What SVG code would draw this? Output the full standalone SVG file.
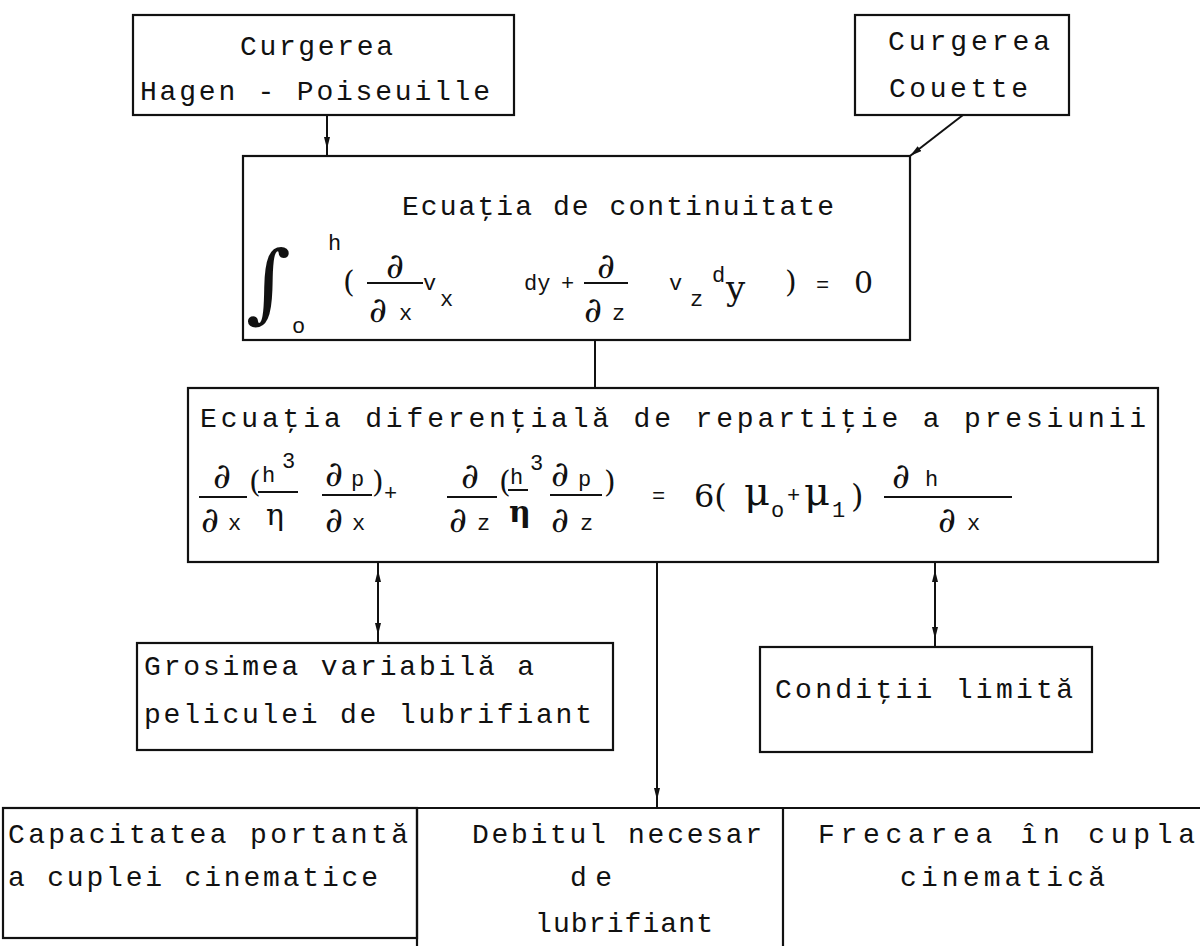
<svg xmlns="http://www.w3.org/2000/svg" width="1200" height="946" viewBox="0 0 1200 946">
<defs>
<marker id="arr" viewBox="0 0 12 6" refX="12" refY="3" markerWidth="12" markerHeight="6" markerUnits="userSpaceOnUse" orient="auto-start-reverse">
<path d="M0,0 L12,3 L0,6 z" fill="#111"/>
</marker>
<marker id="arrin" viewBox="0 0 20 6" refX="20" refY="3" markerWidth="20" markerHeight="6" markerUnits="userSpaceOnUse" orient="auto-start-reverse">
<path d="M0,0 L12,3 L0,6 z" fill="#111"/>
</marker>
<style>
.box{fill:none;stroke:#111;stroke-width:2.2}
.ln{fill:none;stroke:#111;stroke-width:2}
.bar{stroke:#111;stroke-width:2}
.tw{font-family:"Liberation Mono","DejaVu Sans Mono",monospace;font-size:28px;fill:#111}
.sm{font-family:"Liberation Mono","DejaVu Sans Mono",monospace;font-size:22px;fill:#111}
.mt{font-family:"DejaVu Serif","Liberation Serif",serif;fill:#111}
.d{font-family:"DejaVu Serif","Liberation Serif",serif;font-size:35px;fill:#111}
</style>
</defs>
<rect width="1200" height="946" fill="#fff"/>

<g id="connectors">
<line class="ln" x1="327" y1="115" x2="327" y2="157" marker-end="url(#arrin)"/>
<line class="ln" x1="963" y1="115" x2="910" y2="156" marker-end="url(#arr)"/>
<line class="ln" x1="595" y1="340" x2="595" y2="388"/>
<line class="ln" x1="378" y1="562" x2="378" y2="643" marker-start="url(#arrin)" marker-end="url(#arrin)"/>
<line class="ln" x1="657" y1="562" x2="657" y2="808" marker-end="url(#arrin)"/>
<line class="ln" x1="935" y1="562" x2="935" y2="647" marker-start="url(#arrin)" marker-end="url(#arrin)"/>
</g>

<g id="hagen-poiseuille">
<rect class="box" x="133" y="15" width="381" height="100"/>
<text class="tw" x="240" y="55" textLength="153" lengthAdjust="spacing">Curgerea</text>
<text class="tw" x="140" y="100" textLength="350" lengthAdjust="spacing">Hagen - Poiseuille</text>
</g>

<g id="couette">
<rect class="box" x="855" y="15" width="214" height="100"/>
<text class="tw" x="888" y="50" textLength="162" lengthAdjust="spacing">Curgerea</text>
<text class="tw" x="889" y="97" textLength="139" lengthAdjust="spacing">Couette</text>
</g>

<g id="continuitate">
<rect class="box" x="243" y="156" width="667" height="184"/>
<text class="tw" x="402" y="215" textLength="432" lengthAdjust="spacing">Ecuaţia de continuitate</text>
<text class="mt" x="246" y="312" font-size="86">∫</text>
<text class="sm" x="328" y="250" font-size="26">h</text>
<text class="sm" x="292" y="333" font-size="20">o</text>
<text class="mt" x="343" y="292" font-size="30">(</text>
<text class="d" x="395" y="278" text-anchor="middle">∂</text>
<line class="bar" x1="367" y1="283" x2="423" y2="283"/>
<text class="d" x="369" y="322">∂</text>
<text class="sm" x="399" y="320">x</text>
<text class="sm" x="423" y="290" font-size="24">v</text>
<text class="sm" x="440" y="306">x</text>
<text class="sm" x="524" y="290" font-size="24">dy</text>
<text class="sm" x="561" y="290" font-size="24">+</text>
<text class="d" x="606" y="278" text-anchor="middle">∂</text>
<line class="bar" x1="584" y1="283" x2="628" y2="283"/>
<text class="d" x="584" y="322">∂</text>
<text class="sm" x="612" y="320">z</text>
<text class="sm" x="669" y="290" font-size="24">v</text>
<text class="sm" x="690" y="306">z</text>
<text class="sm" x="712" y="282" font-size="20">d</text>
<text class="mt" x="726" y="300" font-size="34">y</text>
<text class="mt" x="785" y="292" font-size="30">)</text>
<text class="sm" x="816" y="292" font-size="26">=</text>
<text class="mt" x="854" y="293" font-size="30">0</text>
</g>

<g id="diferentiala">
<rect class="box" x="188" y="388" width="970" height="174"/>
<text class="tw" x="200" y="427" textLength="946" lengthAdjust="spacing">Ecuaţia diferenţială de repartiţie a presiunii</text>
<text class="d" x="222" y="488" text-anchor="middle">∂</text>
<line class="bar" x1="199" y1="497" x2="247" y2="497"/>
<text class="d" x="201" y="532">∂</text>
<text class="sm" x="228" y="530">x</text>
<text class="mt" x="249" y="492" font-size="30">(</text>
<text class="sm" x="262" y="482" font-size="26">h</text>
<text class="sm" x="282" y="468" font-size="20">3</text>
<line class="bar" x1="258" y1="492" x2="298" y2="492"/>
<text class="mt" x="266" y="525" font-size="30">η</text>
<text class="d" x="325" y="486">∂</text>
<text class="sm" x="351" y="486" font-size="24">p</text>
<line class="bar" x1="322" y1="495" x2="372" y2="495"/>
<text class="d" x="325" y="532">∂</text>
<text class="sm" x="352" y="530">x</text>
<text class="mt" x="372" y="492" font-size="30">)</text>
<text class="sm" x="384" y="500" font-size="24">+</text>
<text class="d" x="470" y="488" text-anchor="middle">∂</text>
<line class="bar" x1="447" y1="497" x2="497" y2="497"/>
<text class="d" x="449" y="532">∂</text>
<text class="sm" x="477" y="530">z</text>
<text class="mt" x="499" y="492" font-size="30">(</text>
<text class="sm" x="510" y="484" font-size="26">h</text>
<line class="bar" x1="508" y1="490" x2="528" y2="490"/>
<text class="sm" x="530" y="470" font-size="20">3</text>
<text class="mt" x="509" y="522" font-size="30" font-weight="bold">η</text>
<text class="d" x="551" y="486">∂</text>
<text class="sm" x="578" y="486" font-size="24">p</text>
<line class="bar" x1="550" y1="495" x2="602" y2="495"/>
<text class="d" x="551" y="532">∂</text>
<text class="sm" x="580" y="530">z</text>
<text class="mt" x="604" y="492" font-size="30">)</text>
<text class="sm" x="652" y="503" font-size="26">=</text>
<text class="mt" x="694" y="507" font-size="32">6(</text>
<text class="mt" x="744" y="505" font-size="40">μ</text>
<text class="sm" x="771" y="517">o</text>
<text class="sm" x="787" y="502" font-size="24">+</text>
<text class="mt" x="804" y="505" font-size="40">μ</text>
<text class="sm" x="832" y="517">1</text>
<text class="mt" x="851" y="507" font-size="32">)</text>
<text class="d" x="892" y="488">∂</text>
<text class="sm" x="925" y="486" font-size="26">h</text>
<line class="bar" x1="884" y1="497" x2="1012" y2="497"/>
<text class="d" x="938" y="532">∂</text>
<text class="sm" x="967" y="530">x</text>
</g>

<g id="grosimea">
<rect class="box" x="137" y="643" width="476" height="107"/>
<text class="tw" x="144" y="675" textLength="390" lengthAdjust="spacing">Grosimea variabilă a</text>
<text class="tw" x="144" y="723" textLength="448" lengthAdjust="spacing">peliculei de lubrifiant</text>
</g>

<g id="conditii">
<rect class="box" x="760" y="647" width="332" height="105"/>
<text class="tw" x="775" y="698" textLength="298" lengthAdjust="spacing">Condiţii limită</text>
</g>

<g id="capacitate">
<rect class="box" x="3" y="808" width="414" height="130"/>
<text class="tw" x="8" y="843" textLength="400" lengthAdjust="spacing">Capacitatea portantă</text>
<text class="tw" x="8" y="886" textLength="370" lengthAdjust="spacing">a cuplei cinematice</text>
</g>

<g id="debit">
<path class="box" d="M417,946 V808 H783 V946"/>
<text class="tw" x="472" y="843" textLength="290" lengthAdjust="spacing">Debitul necesar</text>
<text class="tw" x="570" y="886" textLength="42" lengthAdjust="spacing">de</text>
<text class="tw" x="535" y="932" textLength="178" lengthAdjust="spacing">lubrifiant</text>
</g>

<g id="frecare">
<path class="box" d="M783,808 H1200"/>
<text class="tw" x="818" y="843" textLength="377" lengthAdjust="spacing">Frecarea în cupla</text>
<text class="tw" x="900" y="886" textLength="205" lengthAdjust="spacing">cinematică</text>
</g>
</svg>
